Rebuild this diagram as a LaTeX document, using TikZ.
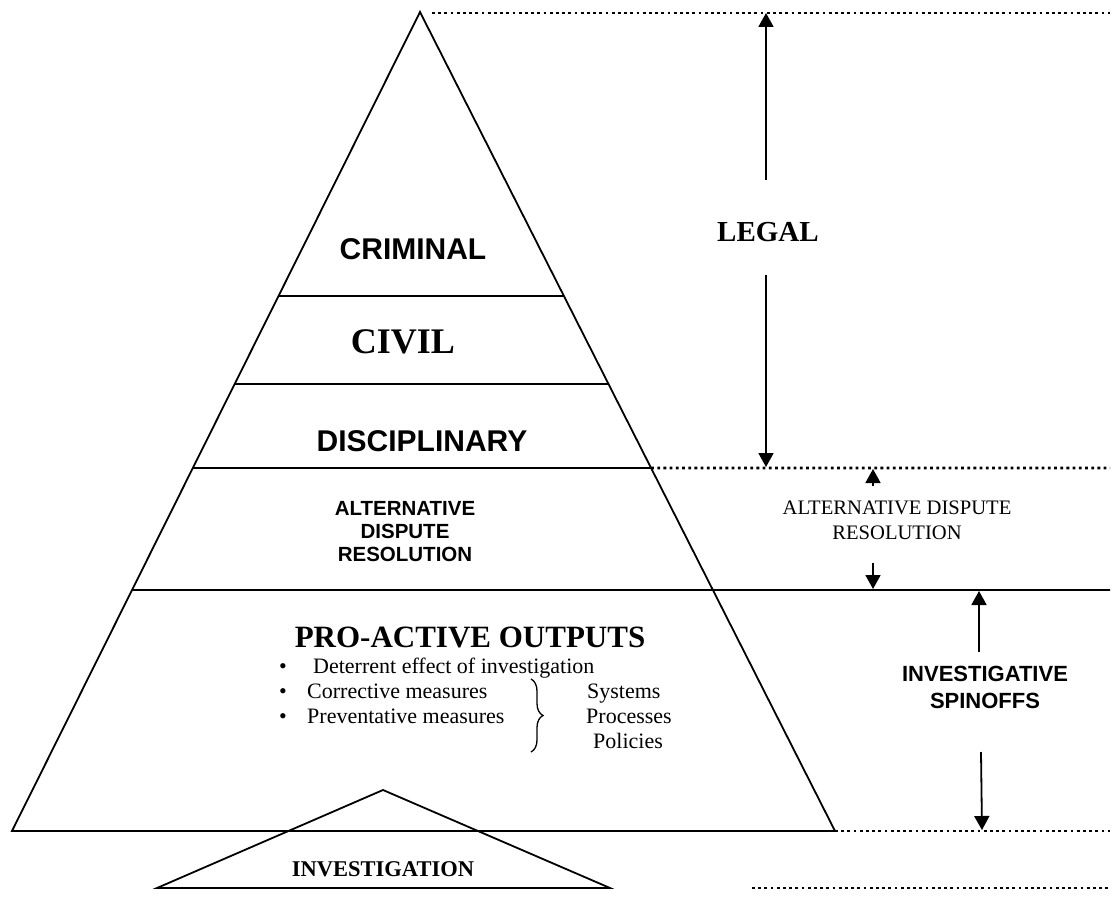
\documentclass[tikz,border=0pt]{standalone}
\usepackage{fontspec}
\setmainfont{Liberation Serif}
\setsansfont{Liberation Sans}
\usetikzlibrary{arrows.meta,decorations.pathreplacing,calc}
\begin{document}
\begin{tikzpicture}[x=1pt,y={(0pt,-1pt)},
  edge/.style={line width=1.8pt,line join=miter},
  dotline/.style={line width=2.6pt,dash pattern=on 2.8pt off 3.4pt},
  arr/.style={line width=1.8pt,-{Triangle[length=14pt,width=15pt]}},
  sanslab/.style={font=\sffamily\bfseries\fontsize{30}{36}\selectfont,inner sep=0pt},
  serlab/.style={font=\rmfamily\bfseries\fontsize{36}{42}\selectfont,inner sep=0pt},
  smallsans/.style={font=\sffamily\bfseries\fontsize{20.5}{23}\selectfont,align=center,inner sep=0pt},
  bodytext/.style={font=\rmfamily\fontsize{22}{25}\selectfont,inner sep=0pt,anchor=base west}]
\useasboundingbox (0,0) rectangle (1114,920);
% main pyramid
\coordinate (A) at (420,12);
\coordinate (BL) at (12,831);
\coordinate (BR) at (835,831);
% investigation triangle
\coordinate (IA) at (383,790);
\coordinate (IL) at (157,888);
\coordinate (IR) at (610,888);
\draw[edge] (IA) -- (IL) -- (IR) -- cycle;
\draw[edge] (A) -- (BL) -- (BR) -- cycle;
% tier lines
\draw[edge] ($(A)!0.3468!(BL)$) -- ($(A)!0.3468!(BR)$);
\draw[edge] ($(A)!0.4542!(BL)$) -- ($(A)!0.4542!(BR)$);
\draw[edge] ($(A)!0.5568!(BL)$) -- ($(A)!0.5568!(BR)$) coordinate (DR);
\coordinate (PL) at ($(A)!0.7057!(BL)$);
\coordinate (PE) at (1110,590);
\draw[edge] (PL) -- (PE);
% dotted guide lines
\coordinate (T1) at (432,13);  \coordinate (T2) at (1110,13);
\coordinate (D2) at (1110,468);
\coordinate (B2) at (1110,831);
\coordinate (L1) at (752,888); \coordinate (L2) at (1110,888);
\draw[dotline] (T1) -- (T2);
\draw[dotline] (DR) -- (D2);
\draw[dotline] (BR) -- (B2);
\draw[dotline] (L1) -- (L2);
% pyramid labels
\node[sanslab] (crim) at (413,249) {CRIMINAL};
\node[serlab] (civ) at (403,342) {CIVIL};
\node[sanslab] (disc) at (422,441) {DISCIPLINARY};
\node[smallsans] (adr) at (405,531.5) {ALTERNATIVE\\DISPUTE\\RESOLUTION};
\node[font=\rmfamily\bfseries\fontsize{31}{36}\selectfont,inner sep=0pt] (pro) at (470,637) {PRO-ACTIVE OUTPUTS};
\node[bodytext] (u1) at (279,673) {\textbullet};
\node[bodytext] (b1) at (313,673) {Deterrent effect of investigation};
\node[bodytext] (u2) at (279,698) {\textbullet};
\node[bodytext] (b2) at (307,698) {Corrective measures};
\node[bodytext] (u3) at (279,723) {\textbullet};
\node[bodytext] (b3) at (307,723) {Preventative measures};
\coordinate (brT) at (531,679);
\coordinate (brB) at (531,752);
\draw[line width=1.3pt,decorate,decoration={brace,amplitude=12pt}] (brT) -- (brB);
\node[bodytext] (sys) at (587,698) {Systems};
\node[bodytext] (proc) at (586,723) {Processes};
\node[bodytext] (pol) at (593,748) {Policies};
\node[font=\rmfamily\bfseries\fontsize{22.5}{26}\selectfont,inner sep=0pt] (inv) at (383,869) {INVESTIGATION};
% right-hand labels and arrows
\node[font=\rmfamily\bfseries\fontsize{29}{32}\selectfont,inner sep=0pt] (legal) at (768,232) {LEGAL};
\coordinate (lgU) at (766,180); \coordinate (lgUt) at (766,13);
\coordinate (lgD) at (766,275); \coordinate (lgDt) at (766,467);
\draw[arr] (lgU) -- (lgUt);
\draw[arr] (lgD) -- (lgDt);
\node[font=\rmfamily\fontsize{20.6}{25}\selectfont,align=center,inner sep=0pt] (adrR) at (897,520) {ALTERNATIVE DISPUTE\\RESOLUTION};
\coordinate (aU) at (873,486); \coordinate (aUt) at (873,469);
\coordinate (aD) at (873,563); \coordinate (aDt) at (873,589);
\draw[arr] (aU) -- (aUt);
\draw[arr] (aD) -- (aDt);
\node[font=\sffamily\bfseries\fontsize{22}{27}\selectfont,align=center,inner sep=0pt] (spin) at (985,687) {INVESTIGATIVE\\SPINOFFS};
\coordinate (sU) at (979,652); \coordinate (sUt) at (979,591);
\coordinate (sD) at (981,752); \coordinate (sDt) at (982,830);
\draw[arr] (sU) -- (sUt);
\draw[arr] (sD) -- (sDt);
\end{tikzpicture}
\end{document}
